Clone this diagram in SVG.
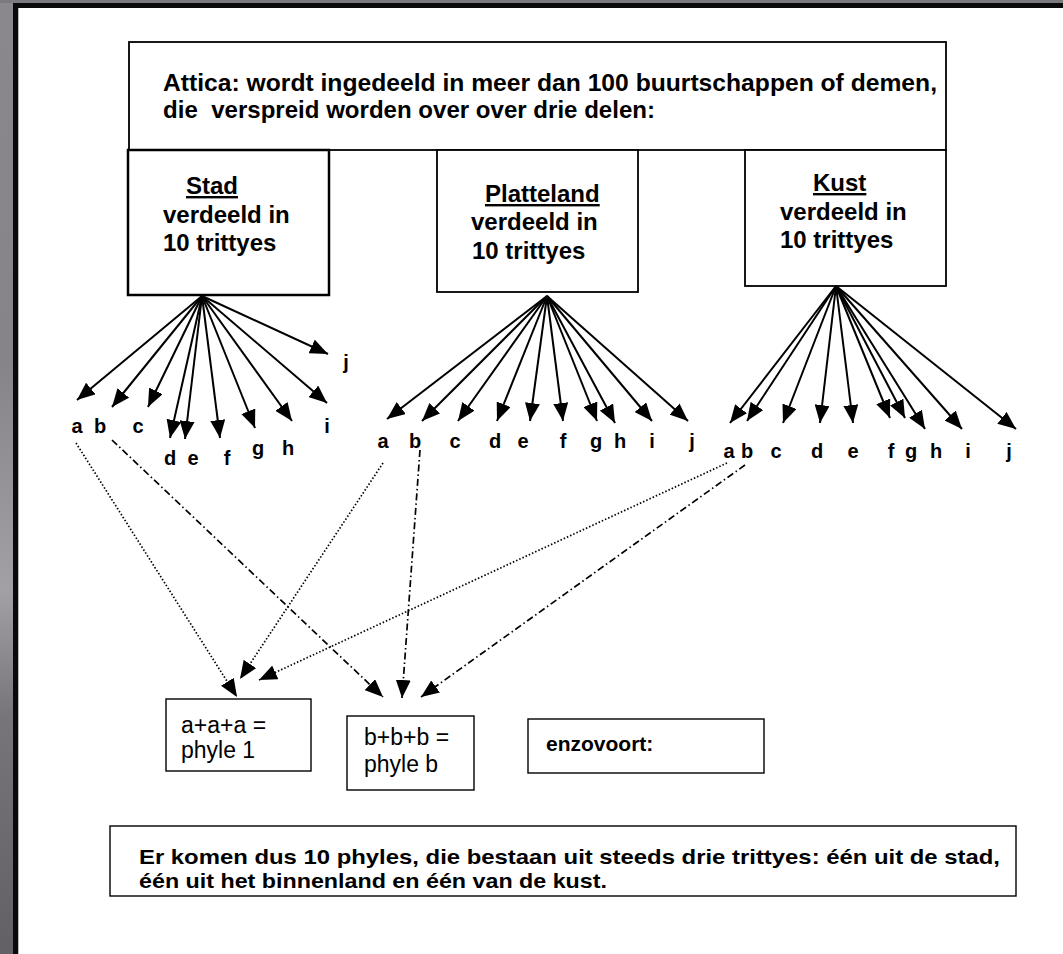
<svg xmlns="http://www.w3.org/2000/svg" width="1063" height="954" viewBox="0 0 1063 954">
<defs>
<linearGradient id="side" x1="0" y1="0" x2="0" y2="1">
<stop offset="0" stop-color="#8a878d"/>
<stop offset="0.38" stop-color="#86838a"/>
<stop offset="0.62" stop-color="#a29fa6"/>
<stop offset="0.75" stop-color="#77747a"/>
<stop offset="1" stop-color="#626066"/>
</linearGradient>
<marker id="ah" markerUnits="userSpaceOnUse" markerWidth="19" markerHeight="15" refX="18" refY="7.5" orient="auto">
<path d="M0,0 L18,7.5 L0,15 z" fill="#000"/>
</marker>
<style>
.box{fill:#fff;stroke:#000;stroke-width:1.8}
.hd{font-family:"Liberation Sans",Arial,sans-serif;font-weight:bold;font-size:24px;fill:#000}
.rg{font-family:"Liberation Sans",Arial,sans-serif;font-size:23px;fill:#000}
.lt{font-family:"Liberation Sans",Arial,sans-serif;font-weight:bold;font-size:20px;fill:#000;text-anchor:middle}
.ar{stroke:#000;stroke-width:2;fill:none;marker-end:url(#ah)}
.dot{stroke:#000;stroke-width:1.7;fill:none;stroke-dasharray:1.5 2;marker-end:url(#ah)}
.dd{stroke:#000;stroke-width:1.7;fill:none;stroke-dasharray:7 3 1.5 3;marker-end:url(#ah)}
</style>
</defs>
<rect x="0" y="0" width="1063" height="954" fill="#fff"/>
<rect x="0" y="0" width="13" height="954" fill="url(#side)"/>
<rect x="0" y="0" width="1063" height="3" fill="#7c7a7f"/>
<rect x="13" y="3" width="1050" height="5" fill="#0a0a0a"/>
<rect x="13" y="3" width="5" height="951" fill="#0a0a0a"/>
<rect x="18" y="8" width="1" height="946" fill="#bbb"/>

<g id="attica">
<rect class="box" x="129" y="42" width="817" height="108"/>
<text class="hd" x="163" y="91" textLength="774" lengthAdjust="spacingAndGlyphs">Attica: wordt ingedeeld in meer dan 100 buurtschappen of demen,</text>
<text class="hd" x="163" y="118" xml:space="preserve" textLength="492" lengthAdjust="spacingAndGlyphs">die  verspreid worden over over drie delen:</text>
</g>
<g id="stad">
<rect class="box" x="128" y="150" width="201" height="145" style="stroke-width:2.5"/>
<text class="hd" x="186" y="194" text-decoration="underline">Stad</text>
<text class="hd" x="163" y="223">verdeeld in</text>
<text class="hd" x="163" y="251">10 trittyes</text>
</g>
<g id="platteland">
<rect class="box" x="437" y="150" width="201" height="142"/>
<text class="hd" x="485" y="202" text-decoration="underline">Platteland</text>
<text class="hd" x="471" y="230">verdeeld in</text>
<text class="hd" x="472" y="259">10 trittyes</text>
</g>
<g id="kust">
<rect class="box" x="745" y="150" width="201" height="136"/>
<text class="hd" x="813" y="191" text-decoration="underline">Kust</text>
<text class="hd" x="780" y="220">verdeeld in</text>
<text class="hd" x="780" y="248">10 trittyes</text>
</g>

<g id="stad-letters">
<text class="lt" x="77" y="433">a</text>
<text class="lt" x="100" y="433">b</text>
<text class="lt" x="138" y="433">c</text>
<text class="lt" x="170" y="465">d</text>
<text class="lt" x="193" y="465">e</text>
<text class="lt" x="227" y="465">f</text>
<text class="lt" x="258" y="455">g</text>
<text class="lt" x="288" y="455">h</text>
<text class="lt" x="327" y="433">i</text>
<text class="lt" x="346" y="369">j</text>
</g>
<g id="platteland-letters">
<text class="lt" x="383" y="448">a</text>
<text class="lt" x="415" y="448">b</text>
<text class="lt" x="455" y="448">c</text>
<text class="lt" x="495" y="448">d</text>
<text class="lt" x="523" y="448">e</text>
<text class="lt" x="563" y="448">f</text>
<text class="lt" x="596" y="448">g</text>
<text class="lt" x="620" y="448">h</text>
<text class="lt" x="652" y="448">i</text>
<text class="lt" x="692" y="448">j</text>
</g>
<g id="kust-letters">
<text class="lt" x="729" y="458">a</text>
<text class="lt" x="747" y="458">b</text>
<text class="lt" x="776" y="458">c</text>
<text class="lt" x="817" y="458">d</text>
<text class="lt" x="853" y="458">e</text>
<text class="lt" x="891" y="458">f</text>
<text class="lt" x="911" y="458">g</text>
<text class="lt" x="936" y="458">h</text>
<text class="lt" x="968" y="458">i</text>
<text class="lt" x="1009" y="458">j</text>
</g>

<g id="phyle1">
<rect class="box" x="166" y="699" width="145" height="72" style="stroke-width:1.4"/>
<text class="rg" x="181" y="733">a+a+a =</text>
<text class="rg" x="181" y="758">phyle 1</text>
</g>
<g id="phyleb">
<rect class="box" x="347" y="716" width="127" height="74" style="stroke-width:1.4"/>
<text class="rg" x="364" y="745">b+b+b =</text>
<text class="rg" x="364" y="772">phyle b</text>
</g>
<g id="enzovoort">
<rect class="box" x="528" y="719" width="236" height="54" style="stroke-width:1.4"/>
<text class="hd" x="546" y="751" style="font-size:21px">enzovoort:</text>
</g>
<g id="conclusie">
<rect class="box" x="110" y="826" width="906" height="70" style="stroke-width:1.4"/>
<text class="hd" x="139" y="864" style="font-size:21px" textLength="861" lengthAdjust="spacingAndGlyphs">Er komen dus 10 phyles, die bestaan uit steeds drie trittyes: één uit de stad,</text>
<text class="hd" x="139" y="888" style="font-size:21px" textLength="468" lengthAdjust="spacingAndGlyphs">één uit het binnenland en één van de kust.</text>
</g>

<g id="connectors">
<path class="ar" d="M202,296 L77,400"/>
<path class="ar" d="M202,296 L112,407"/>
<path class="ar" d="M202,296 L148,407"/>
<path class="ar" d="M202,296 L170,438"/>
<path class="ar" d="M202,296 L185,439"/>
<path class="ar" d="M202,296 L220,438"/>
<path class="ar" d="M202,296 L255,428"/>
<path class="ar" d="M202,296 L292,421"/>
<path class="ar" d="M202,296 L327,403"/>
<path class="ar" d="M202,296 L328,354"/>

<path class="ar" d="M547,296 L387,419"/>
<path class="ar" d="M547,296 L422,421"/>
<path class="ar" d="M547,296 L458,421"/>
<path class="ar" d="M547,296 L497,421"/>
<path class="ar" d="M547,296 L530,421"/>
<path class="ar" d="M547,296 L563,421"/>
<path class="ar" d="M547,296 L597,421"/>
<path class="ar" d="M547,296 L615,423"/>
<path class="ar" d="M547,296 L652,421"/>
<path class="ar" d="M547,296 L688,421"/>

<path class="ar" d="M836,286 L730,423"/>
<path class="ar" d="M836,286 L747,421"/>
<path class="ar" d="M836,286 L783,423"/>
<path class="ar" d="M836,286 L820,423"/>
<path class="ar" d="M836,286 L853,423"/>
<path class="ar" d="M836,286 L890,418"/>
<path class="ar" d="M836,286 L905,418"/>
<path class="ar" d="M836,286 L925,429"/>
<path class="ar" d="M836,286 L962,429"/>
<path class="ar" d="M836,286 L1016,429"/>

<path class="dot" d="M76,443 L237,697"/>
<path class="dot" d="M383,463 L240,679"/>
<path class="dot" d="M727,463 L259,680"/>
<path class="dd" d="M112,440 L383,697"/>
<path class="dd" d="M420,450 L402,698"/>
<path class="dd" d="M745,465 L421,697"/>
</g>
</svg>
